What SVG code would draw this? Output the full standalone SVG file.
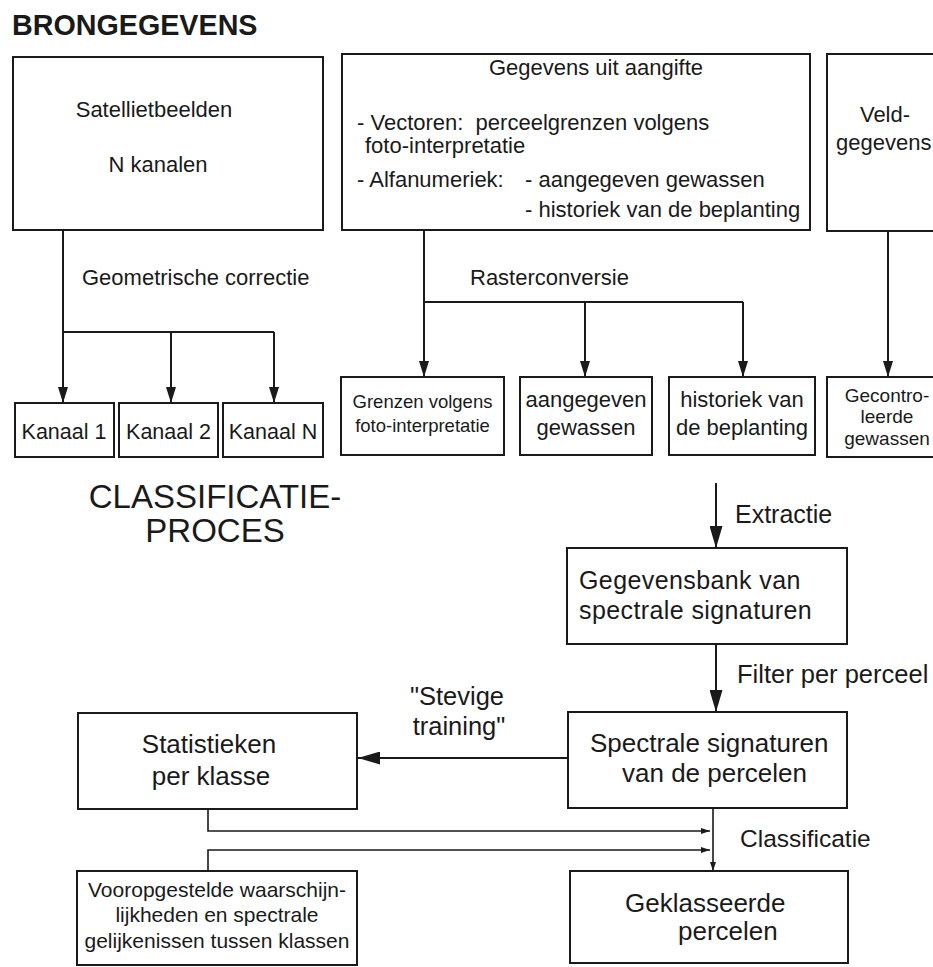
<svg xmlns="http://www.w3.org/2000/svg" width="933" height="967" viewBox="0 0 933 967">
<style>
text{font-family:"Liberation Sans",Arial,sans-serif;fill:#1a1a1a}
.box{fill:#fff;stroke:#1a1a1a;stroke-width:2}
.ln{fill:none;stroke:#1a1a1a;stroke-width:2}
.thin{fill:none;stroke:#1a1a1a;stroke-width:1.6}
.c{text-anchor:middle}
.f22{font-size:22px}
.f26{font-size:26px}
</style>
<defs>
<marker id="am" viewBox="0 0 16 10" refX="16" refY="5" markerWidth="16" markerHeight="10" markerUnits="userSpaceOnUse" orient="auto"><path d="M0,0 L16,5 L0,10 z" fill="#1a1a1a"/></marker>
<marker id="al" viewBox="0 0 22 13" refX="22" refY="6.5" markerWidth="22" markerHeight="13" markerUnits="userSpaceOnUse" orient="auto"><path d="M0,0 L22,6.5 L0,13 z" fill="#1a1a1a"/></marker>
<marker id="as" viewBox="0 0 9 6" refX="9" refY="3" markerWidth="9" markerHeight="6" markerUnits="userSpaceOnUse" orient="auto"><path d="M0,0 L9,3 L0,6 z" fill="#1a1a1a"/></marker>
</defs>
<rect width="933" height="967" fill="#fff"/>

<text x="12" y="35" style="font-size:28.7px;font-weight:bold">BRONGEGEVENS</text>
<text x="215" y="508" class="c" style="font-size:33px">CLASSIFICATIE-</text>
<text x="215" y="542" class="c" style="font-size:33px">PROCES</text>

<g id="connectors">
<path class="ln" d="M63,230 V332 M63,332 H274" />
<path class="ln" d="M63,332 V403" marker-end="url(#am)"/>
<path class="ln" d="M171,332 V403" marker-end="url(#am)"/>
<path class="ln" d="M274,332 V403" marker-end="url(#am)"/>
<path class="ln" d="M424,230 V302 H743" />
<path class="ln" d="M424,302 V377" marker-end="url(#am)"/>
<path class="ln" d="M585,302 V377" marker-end="url(#am)"/>
<path class="ln" d="M743,302 V377" marker-end="url(#am)"/>
<path class="ln" d="M888,231 V377" marker-end="url(#am)"/>
<path class="ln" d="M716,483 V548" marker-end="url(#al)"/>
<path class="ln" d="M716,644 V712" marker-end="url(#al)"/>
<path class="ln" d="M568,758 H358" marker-end="url(#al)"/>
<path class="thin" d="M713,808 V871" marker-end="url(#as)"/>
<path class="thin" d="M208,809 V831 H710" marker-end="url(#as)"/>
<path class="thin" d="M208,871 V850 H710" marker-end="url(#as)"/>
<text x="82" y="285" class="f22">Geometrische correctie</text>
<text x="470" y="285" class="f22">Rasterconversie</text>
<text x="735" y="523" style="font-size:25px">Extractie</text>
<text x="737" y="683" style="font-size:25.5px">Filter per perceel</text>
<text x="457" y="705" class="c" style="font-size:25.5px">"Stevige</text>
<text x="459" y="735" class="c" style="font-size:25.5px">training"</text>
<text x="740" y="847" style="font-size:24.5px">Classificatie</text>
</g>

<g id="satellietbeelden">
<rect class="box" x="13" y="57" width="310" height="173"/>
<text x="154" y="117" class="c f22">Satellietbeelden</text>
<text x="158" y="172" class="c f22">N kanalen</text>
</g>

<g id="aangifte">
<rect class="box" x="342" y="54" width="468" height="176"/>
<text x="596" y="75" class="c f22">Gegevens uit aangifte</text>
<text x="357" y="130" class="f22" xml:space="preserve">- Vectoren:  perceelgrenzen volgens</text>
<text x="365" y="153" class="f22">foto-interpretatie</text>
<text x="357" y="187" class="f22">- Alfanumeriek:</text>
<text x="525" y="187" class="f22">- aangegeven gewassen</text>
<text x="525" y="217" class="f22">- historiek van de beplanting</text>
</g>

<g id="veldgegevens">
<rect class="box" x="827" y="54" width="120" height="177"/>
<text x="885" y="122" class="c f22">Veld-</text>
<text x="836" y="150" class="f22">gegevens</text>
</g>

<g id="kanaal1">
<rect class="box" x="15" y="403" width="99" height="54"/>
<text x="64" y="439" class="c" style="font-size:21.5px">Kanaal 1</text>
</g>
<g id="kanaal2">
<rect class="box" x="119" y="403" width="99" height="54"/>
<text x="168.5" y="439" class="c" style="font-size:21.5px">Kanaal 2</text>
</g>
<g id="kanaalN">
<rect class="box" x="223" y="403" width="100" height="54"/>
<text x="273" y="439" class="c" style="font-size:21.5px">Kanaal N</text>
</g>

<g id="grenzen">
<rect class="box" x="341" y="377" width="163" height="78"/>
<text x="422.5" y="408" class="c" style="font-size:18.5px">Grenzen volgens</text>
<text x="422.5" y="432" class="c" style="font-size:18.5px">foto-interpretatie</text>
</g>
<g id="aangegeven">
<rect class="box" x="520" y="377" width="132" height="78"/>
<text x="586" y="407" class="c f22">aangegeven</text>
<text x="586" y="435" class="c f22">gewassen</text>
</g>
<g id="historiek">
<rect class="box" x="669" y="377" width="146" height="78"/>
<text x="742" y="407" class="c f22">historiek van</text>
<text x="742" y="435" class="c f22">de beplanting</text>
</g>
<g id="gecontroleerde">
<rect class="box" x="827" y="377" width="120" height="80"/>
<text x="887" y="402" class="c" style="font-size:19px">Gecontro-</text>
<text x="887" y="423" class="c" style="font-size:19px">leerde</text>
<text x="887" y="445" class="c" style="font-size:19px">gewassen</text>
</g>

<g id="gegevensbank">
<rect class="box" x="567" y="548" width="280" height="96"/>
<text x="579" y="589" style="font-size:25px;letter-spacing:0.4px">Gegevensbank van</text>
<text x="579" y="619" style="font-size:25px;letter-spacing:0.4px">spectrale signaturen</text>
</g>

<g id="spectrale">
<rect class="box" x="568" y="712" width="279" height="96"/>
<text x="590" y="752" class="f26">Spectrale signaturen</text>
<text x="622" y="782" class="f26">van de percelen</text>
</g>

<g id="statistieken">
<rect class="box" x="78" y="713" width="279" height="96"/>
<text x="209" y="753" class="c f26">Statistieken</text>
<text x="211" y="785" class="c f26">per klasse</text>
</g>

<g id="vooropgestelde">
<rect class="box" x="77" y="871" width="280" height="94"/>
<text x="217" y="897" class="c" style="font-size:21px">Vooropgestelde waarschijn-</text>
<text x="217" y="922" class="c" style="font-size:21px">lijkheden en spectrale</text>
<text x="217" y="948" class="c" style="font-size:21px">gelijkenissen tussen klassen</text>
</g>

<g id="geklasseerde">
<rect class="box" x="570" y="871" width="278" height="92"/>
<text x="625" y="912" class="f26">Geklasseerde</text>
<text x="678" y="940" class="f26">percelen</text>
</g>
</svg>
